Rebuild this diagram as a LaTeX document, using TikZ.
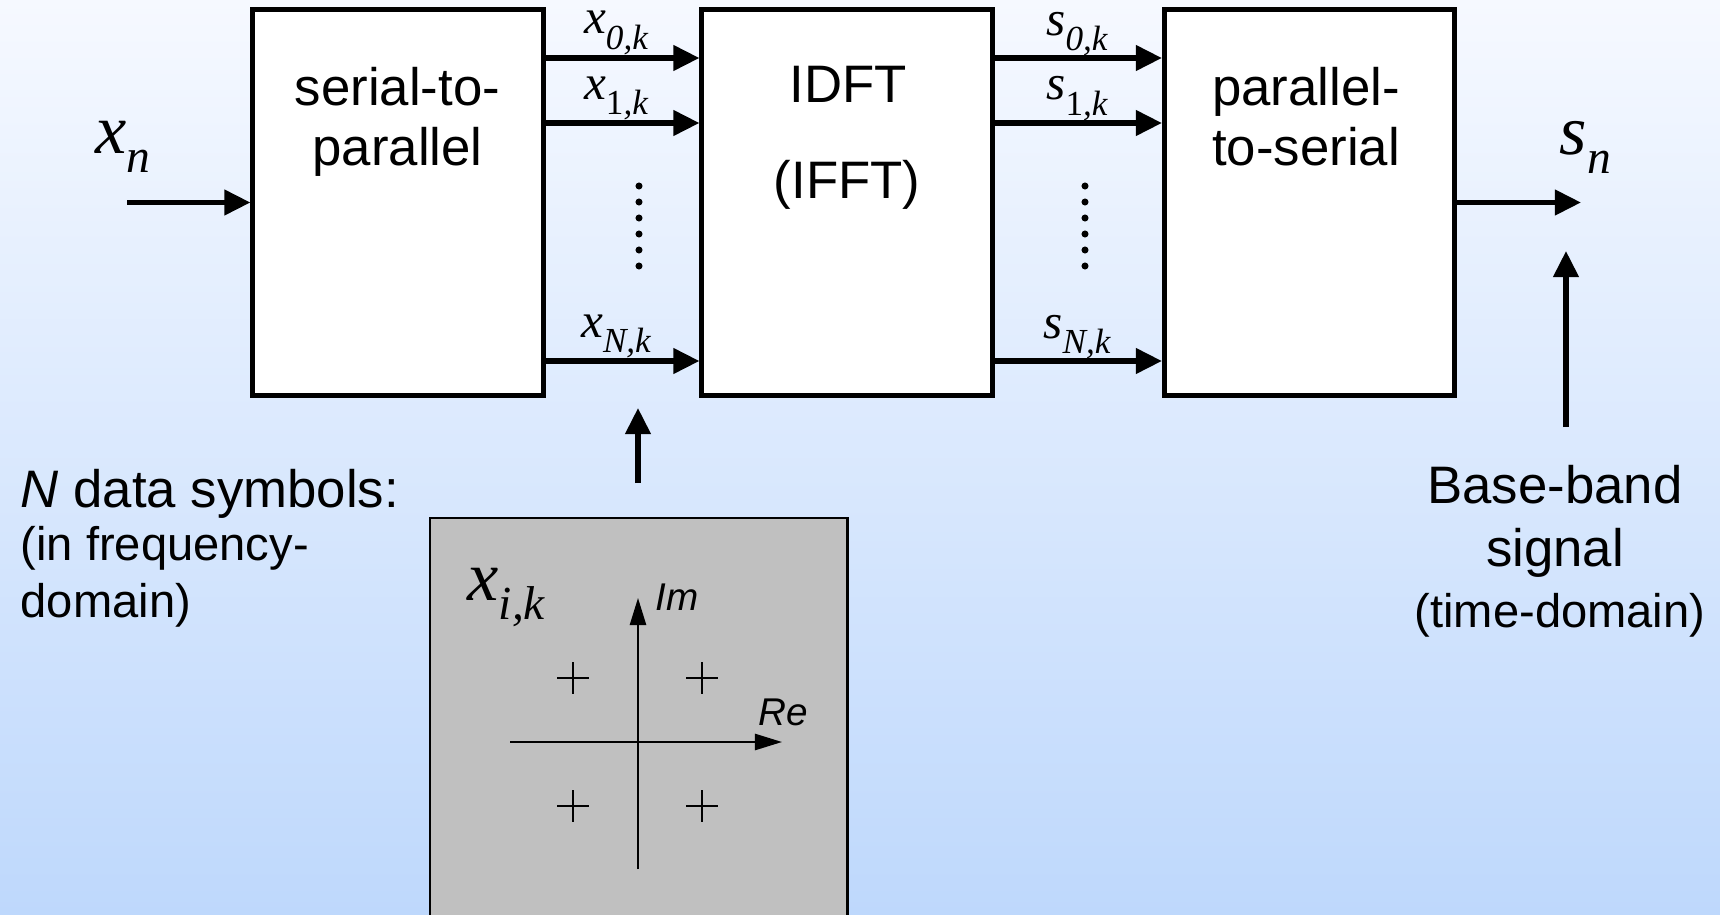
\documentclass[tikz,border=0pt]{standalone}
\usepackage{fontspec}
\setmainfont{Liberation Sans}
\newfontfamily\tms{Liberation Serif}
\usetikzlibrary{arrows.meta}
\definecolor{bgtop}{RGB}{246,249,255}
\definecolor{bgbot}{RGB}{190,216,252}
\definecolor{constgray}{RGB}{192,192,192}
\newcommand\arrlbl[2]{{\tms\itshape\fontsize{14}{14}\selectfont #1\raisebox{-4.5pt}{\fontsize{10}{10}\selectfont #2}}}
\newcommand\biglbl[2]{{\tms\itshape\fontsize{20}{20}\selectfont #1\raisebox{-5.5pt}{\fontsize{13.5}{13.5}\selectfont #2}}}
\begin{document}
\begin{tikzpicture}[x=0.01cm,y=-0.01cm,
  blk/.style={draw,line width=1.4pt,fill=white,minimum width=2.9cm,minimum height=3.85cm,inner sep=0pt},
  arr/.style={line width=1.5pt,-{Triangle[length=7.4pt,width=7pt]}},
  axisarr/.style={line width=0.6pt,-{Triangle[length=7.7pt,width=4.6pt]}},
  boxtxt/.style={inner sep=0pt,anchor=base,font=\fontsize{15}{17}\selectfont},
  bigtxt/.style={inner sep=0pt,font=\fontsize{15}{17}\selectfont},
  smalltxt/.style={inner sep=0pt,font=\fontsize{13.4}{16}\selectfont},
  lbl/.style={inner sep=0pt,anchor=base},
  axlbl/.style={inner sep=0pt,anchor=base west,font=\fontsize{11}{11}\selectfont\itshape},
  plusmark/.style={line width=0.5pt}
]
\useasboundingbox (0,0) rectangle (1720,915);
\fill[top color=bgtop,bottom color=bgbot] (0,0) rectangle (1720,915);
\clip (0,0) rectangle (1720,915);

% main blocks
\node[blk] (sp) at (398,202.5) {};
\node[blk] (idft) at (847,202.5) {};
\node[blk] (ps) at (1309.5,202.5) {};

\node[boxtxt] (sp1) at (397.5,105) {serial-to-};
\node[boxtxt] (sp2) at (397.5,165) {parallel};
\node[boxtxt] (id1) at (848,103) {IDFT};
\node[boxtxt] (id2) at (847,198) {(IFFT)};
\node[boxtxt] (ps1) at (1306,106) {parallel-};
\node[boxtxt] (ps2) at (1306,166) {to-serial};

% row coordinates
\coordinate (r0) at (0,58);
\coordinate (r1) at (0,123);
\coordinate (rN) at (0,361);

% parallel arrows
\draw[arr] (sp.east |- r0) -- (idft.west |- r0);
\draw[arr] (sp.east |- r1) -- (idft.west |- r1);
\draw[arr] (sp.east |- rN) -- (idft.west |- rN);
\draw[arr] (idft.east |- r0) -- (ps.west |- r0);
\draw[arr] (idft.east |- r1) -- (ps.west |- r1);
\draw[arr] (idft.east |- rN) -- (ps.west |- rN);

\node[lbl] (x0) at (616,34) {\arrlbl{x}{0,k}};
\node[lbl] (x1) at (616,99) {\arrlbl{x}{\upshape 1\itshape ,k}};
\node[lbl] (xN) at (616,337) {\arrlbl{x}{N,k}};
\node[lbl] (s0) at (1077,35) {\arrlbl{s}{0,k}};
\node[lbl] (s1) at (1077,100) {\arrlbl{s}{\upshape 1\itshape ,k}};
\node[lbl] (sN) at (1077,338) {\arrlbl{s}{N,k}};

% vertical dots
\foreach \i in {0,...,5} {
  \fill (639,186+16*\i) circle[radius=1pt];
  \fill (1085,186+16*\i) circle[radius=1pt];
}

% input / output
\coordinate (inp) at (127,202.5);
\coordinate (outp) at (1581,202.5);
\draw[arr] (inp) -- (sp.west);
\draw[arr] (ps.east) -- (outp);
\node[inner sep=0pt,anchor=base west] (xn) at (95,153) {\biglbl{x}{n}};
\node[inner sep=0pt,anchor=base west] (sn) at (1559,154) {\biglbl{s}{n}};

% left description
\node[bigtxt,anchor=base west] (nd1) at (20,507) {\textit{N} data symbols:};
\node[smalltxt,anchor=base west] (nd2) at (20,560) {(in frequency-};
\node[smalltxt,anchor=base west] (nd3) at (20,617) {domain)};

% right description
\node[bigtxt,anchor=base] (bb1) at (1555,503) {Base-band};
\node[bigtxt,anchor=base] (bb2) at (1555,566) {signal};
\node[smalltxt,anchor=base] (bb3) at (1560,627) {(time-domain)};

% up arrows
\coordinate (upa0) at (638,483);
\coordinate (upa1) at (638,408);
\draw[arr] (upa0) -- (upa1);
\coordinate (upb0) at (1566,427);
\coordinate (upb1) at (1566,251);
\draw[arr] (upb0) -- (upb1);

% constellation box
\node[draw,line width=0.7pt,fill=constgray,minimum width=4.17cm,minimum height=4.3cm,inner sep=0pt,anchor=north west] (cons) at (429,517) {};
\coordinate (imb) at (638,869);
\coordinate (imt) at (638,598);
\coordinate (rel) at (510,742);
\coordinate (rer) at (782,742);
\draw[axisarr] (imb) -- (imt);
\draw[axisarr] (rel) -- (rer);
\node[axlbl] (im) at (655,610) {Im};
\node[axlbl] (re) at (758,725) {Re};
\node[inner sep=0pt,anchor=base west] (xik) at (467,600) {\biglbl{x}{i,k}};
\foreach \cx/\cy in {573/678,702/678,573/806,702/806} {
  \draw[plusmark] (\cx-16,\cy) -- (\cx+16,\cy) (\cx,\cy-16) -- (\cx,\cy+16);
}
\end{tikzpicture}
\end{document}
